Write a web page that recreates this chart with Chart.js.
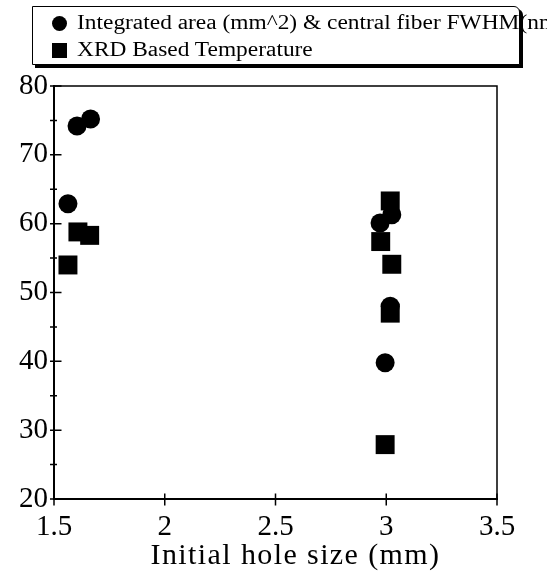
<!DOCTYPE html>
<html>
<head>
<meta charset="utf-8">
<script src="https://cdn.jsdelivr.net/npm/chart.js@4.4.1/dist/chart.umd.min.js"></script>
<style>
  html, body { margin: 0; padding: 0; background: #fff; overflow: hidden; }
  #wrap { position: relative; width: 547px; height: 571px; }
  #myScatter { position: absolute; left: 0; top: 0; }
  #legend {
    position: absolute; left: 32px; top: 6px; width: 486px; height: 57px;
    border: 1.5px solid #000; border-top-right-radius: 6px;
    box-shadow: 3px 3px 0 #000; background: #fff;
  }
  .mark { position: absolute; left: 52px; width: 15px; height: 15px; background: #000; }
  .dot { border-radius: 50%; top: 16px; }
  .sq { top: 43px; }
  .txt {
    position: absolute; left: 77px; font: 20px "Liberation Serif", serif; line-height: 20px;
    white-space: nowrap; color: #000; transform: scaleX(1.17); transform-origin: 0 0;
  }
</style>
</head>
<body>
<div id="wrap">
  <canvas id="myScatter" width="547" height="571"></canvas>
  <div id="legend"></div>
  <span class="mark dot"></span>
  <span class="txt" style="top:12px">Integrated area (mm^2) &amp; central fiber FWHM(nm)</span>
  <span class="mark sq"></span>
  <span class="txt" style="top:39px">XRD Based Temperature</span>
</div>
<script>
// values
const circleX = [1.563, 1.604, 1.665, 2.972, 3.025, 3.018, 2.995];
const circleY = [62.9, 74.2, 75.2, 60.1, 61.3, 48.0, 39.8];
const squareX = [1.563, 1.608, 1.661, 3.018, 2.975, 3.025, 3.018, 2.995];
const squareY = [54.0, 58.8, 58.3, 63.3, 57.4, 54.1, 47.0, 27.9];
const xTicks = [1.5, 2, 2.5, 3, 3.5];
const yTicks = [20, 30, 40, 50, 60, 70, 80];
const yMinorTicks = [25, 35, 45, 55, 65, 75];

function toPoints(xs, ys) {
  return xs.map((v, i) => ({ x: v, y: ys[i] }));
}

// top/right frame and tick marks crossing the axes
const frameTicks = {
  id: 'frameTicks',
  afterDraw(chart) {
    const { ctx, chartArea: a, scales: { x, y } } = chart;
    ctx.save();
    ctx.strokeStyle = '#000';
    ctx.lineWidth = 1.5;
    ctx.beginPath();
    ctx.moveTo(a.left, a.top);
    ctx.lineTo(a.right, a.top);
    ctx.lineTo(a.right, a.bottom);
    ctx.stroke();
    ctx.beginPath();
    xTicks.forEach((v) => {
      const px = x.getPixelForValue(v);
      ctx.moveTo(px, a.bottom - 5.5);
      ctx.lineTo(px, a.bottom + 6.5);
    });
    yTicks.forEach((v) => {
      const py = y.getPixelForValue(v);
      ctx.moveTo(a.left - 4, py);
      ctx.lineTo(a.left + 7.5, py);
    });
    yMinorTicks.forEach((v) => {
      const py = y.getPixelForValue(v);
      ctx.moveTo(a.left - 4, py);
      ctx.lineTo(a.left + 3, py);
    });
    ctx.stroke();
    ctx.restore();
  }
};

// the axis title in the scan is set wide and a little right of centre
const wideTitle = {
  id: 'wideTitle',
  afterUpdate(chart) {
    const sc = chart.scales.x;
    if (sc._wide) return;
    const draw = sc.drawTitle.bind(sc);
    sc.drawTitle = () => {
      sc.ctx.save();
      sc.ctx.letterSpacing = '1.4px';
      sc.ctx.translate(20, 0);
      draw();
      sc.ctx.restore();
    };
    sc._wide = true;
  }
};

const ctx = document.getElementById('myScatter').getContext('2d');
const chart = new Chart(ctx, {
  type: 'scatter',
  data: {
    datasets: [
      {
        label: 'Integrated area (mm^2) & central fiber FWHM(nm)',
        data: toPoints(circleX, circleY),
        pointStyle: 'circle',
        pointRadius: 9.5,
        backgroundColor: '#000',
        borderColor: '#000',
        borderWidth: 0,
      },
      {
        label: 'XRD Based Temperature',
        data: toPoints(squareX, squareY),
        pointStyle: 'rect',
        pointRadius: 13.4,
        backgroundColor: '#000',
        borderColor: '#000',
        borderWidth: 0,
      },
    ],
  },
  options: {
    responsive: false,
    animation: false,
    layout: { padding: { top: 86, right: 50, left: 0, bottom: 0 } },
    plugins: { legend: { display: false }, tooltip: { enabled: false } },
    scales: {
      x: {
        type: 'linear',
        min: 1.5,
        max: 3.5,
        afterFit: (scale) => { scale.height = 72; },
        afterBuildTicks: (scale) => { scale.ticks = xTicks.map((v) => ({ value: v })); },
        grid: { display: false, drawTicks: false, tickLength: 0 },
        border: { display: true, color: '#000', width: 2 },
        ticks: {
          color: '#000',
          padding: 11,
          maxRotation: 0,
          callback: (v) => String(v),
          font: { family: 'Liberation Serif', size: 29, lineHeight: 1.2 },
        },
        title: {
          display: true,
          text: 'Initial hole size (mm)',
          color: '#000',
          padding: { top: 0, bottom: 0 },
          font: { family: 'Liberation Serif', size: 30, lineHeight: 1 },
        },
      },
      y: {
        type: 'linear',
        min: 20,
        max: 80,
        afterFit: (scale) => { scale.width = 54; },
        afterBuildTicks: (scale) => { scale.ticks = yTicks.map((v) => ({ value: v })); },
        grid: { display: false, drawTicks: false, tickLength: 0 },
        border: { display: true, color: '#000', width: 2 },
        ticks: {
          color: '#000',
          padding: 6,
          callback: (v) => String(v),
          font: { family: 'Liberation Serif', size: 29 },
        },
      },
    },
  },
  plugins: [frameTicks, wideTitle],
});
</script>
</body>
</html>
